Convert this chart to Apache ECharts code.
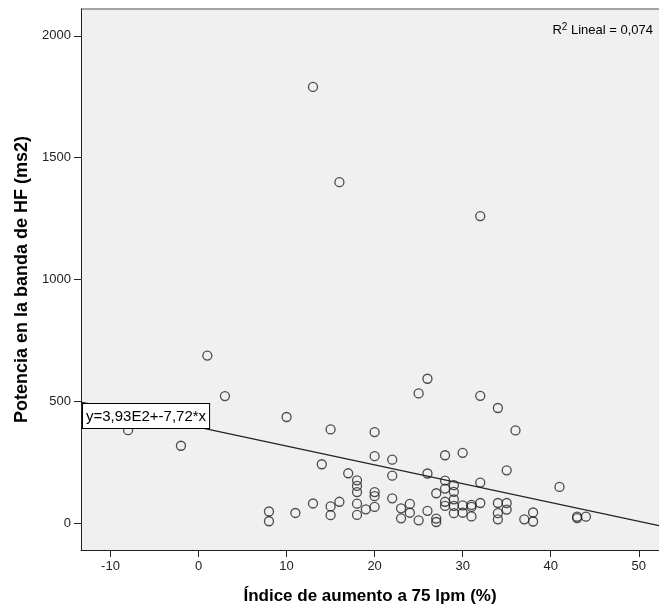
<!DOCTYPE html>
<html>
<head>
<meta charset="utf-8">
<script src="https://cdn.jsdelivr.net/npm/echarts@6/dist/echarts.min.js"></script>
<style>
  html, body { margin: 0; padding: 0; background: #fff; }
  #chart { width: 659px; height: 610px; }
</style>
</head>
<body>
<div id="chart"></div>
<script>
// Índice de aumento a 75 lpm (%) vs potencia HF (ms2)
const xValues = [-8, -2, 1, 3, 8, 8, 10, 11, 13, 13, 14, 15, 15, 15, 16, 16, 17,
  18, 18, 18, 18, 18, 19, 20, 20, 20, 20, 20, 22, 22, 22, 23, 23, 24, 24, 25, 25,
  26, 26, 26, 27, 27, 27, 28, 28, 28, 28, 28, 29, 29, 29, 29, 29, 30, 30, 30,
  31, 31, 31, 32, 32, 32, 32, 34, 34, 34, 34, 35, 35, 35, 36, 37, 38, 38, 41, 43, 43, 44]
const yValues = [381, 317, 687, 521, 47, 7, 435, 41, 1790, 80, 241, 384, 68, 32, 1399, 87, 204,
  175, 152, 127, 79, 33, 56, 373, 274, 127, 110, 66, 260, 194, 101, 60, 19, 78, 42, 532, 11,
  592, 203, 50, 122, 18, 4, 278, 174, 141, 87, 70, 155, 128, 97, 70, 40, 288, 72, 42,
  74, 66, 27, 1260, 522, 166, 82, 472, 82, 40, 15, 216, 82, 55, 380, 15, 43, 6, 148, 26, 20, 26]

// recta de ajuste (SPSS)
const fitIntercept = 393
const fitSlope = -7.72
const fitLabel = 'y=3,93E2+-7,72*x'
const r2Label = 'Lineal = 0,074'

const xMin = -13.35, xMax = 52.3
const yMin = -111, yMax = 2110

const points = xValues.map((x, i) => [x, yValues[i]])
const fitLine = [xMin, xMax].map(x => [x, fitIntercept + fitSlope * x])

const chart = echarts.init(document.getElementById('chart'))
const font = 'Liberation Sans, Arial, sans-serif'

chart.setOption({
    animation: false,
    textStyle: { fontFamily: font },
    grid: { left: 81, right: 0, top: 9, bottom: 59, show: true, backgroundColor: '#f0f0f0', borderWidth: 0 },
    xAxis: {
        type: 'value', min: xMin, max: xMax,
        name: 'Índice de aumento a 75 lpm (%)', nameLocation: 'middle', nameGap: 38,
        nameTextStyle: { fontSize: 17, fontWeight: 'bold', color: '#000' },
        axisLine: { onZero: false, lineStyle: { color: '#222' } },
        axisTick: { show: true, length: 7, lineStyle: { color: '#222' } },
        axisLabel: { color: '#222', fontSize: 13, showMinLabel: false, showMaxLabel: false, margin: 10 },
        splitLine: { show: false }
    },
    yAxis: {
        type: 'value', min: yMin, max: yMax,
        name: 'Potencia en la banda de HF (ms2)', nameLocation: 'middle', nameGap: 50, nameRotate: 90,
        nameTextStyle: { fontSize: 18, fontWeight: 'bold', color: '#000' },
        axisLine: { show: true, onZero: false, lineStyle: { color: '#222' } },
        axisTick: { show: true, length: 7, lineStyle: { color: '#222' } },
        axisLabel: { color: '#222', fontSize: 13, showMinLabel: false, showMaxLabel: false, margin: 10,
            formatter: v => String(v) },
        splitLine: { show: false }
    },
    series: [
        {
            type: 'scatter', data: points, symbol: 'circle', symbolSize: 9,
            itemStyle: { color: 'rgba(0,0,0,0)', borderColor: '#222', borderWidth: 1.3 }
        },
        {
            type: 'line', data: fitLine, symbol: 'none', z: 3,
            lineStyle: { color: '#222', width: 1.2 }
        }
    ],
    graphic: [
        { type: 'line', shape: { x1: 81, y1: 9, x2: 659, y2: 9 }, style: { stroke: '#888', lineWidth: 1.5 } },
        {
            type: 'text', left: 82, top: 403, z: 10,
            style: {
                text: fitLabel, font: '15px ' + font, fill: '#000',
                backgroundColor: '#fff', borderColor: '#000', borderWidth: 1, padding: [5, 3, 4, 3]
            }
        },
        {
            type: 'text', right: 6, top: 22, z: 10,
            style: {
                text: '{n|R}{s|2}{n| ' + r2Label + '}',
                rich: {
                    n: { font: '13px ' + font, fill: '#000' },
                    s: { font: '10px ' + font, fill: '#000', verticalAlign: 'top', padding: [0, 0, 7, 0] }
                }
            }
        }
    ]
})
</script>
</body>
</html>
